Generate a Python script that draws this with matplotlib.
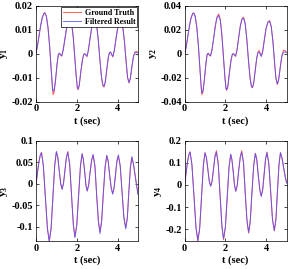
import numpy as np
import matplotlib
matplotlib.use('Agg')
import matplotlib.pyplot as plt
from matplotlib.ticker import FormatStrFormatter

plt.rcParams['font.family'] = 'Liberation Serif'
plt.rcParams['font.weight'] = 'bold'
plt.rcParams['mathtext.fontset'] = 'custom'
plt.rcParams['mathtext.rm'] = 'Liberation Serif'
plt.rcParams['mathtext.bf'] = 'Liberation Serif:bold'
plt.rcParams['axes.unicode_minus'] = False

# time grids (sec)
t_a = [0.00, 0.08, 0.16, 0.24, 0.32, 0.40, 0.45, 0.52, 0.60, 0.68,
       0.76, 0.82, 0.85, 0.90, 0.97, 1.04, 1.10, 1.15, 1.21, 1.27,
       1.34, 1.42, 1.50, 1.58, 1.67, 1.75, 1.83, 1.91, 1.98, 2.03,
       2.06, 2.12, 2.20, 2.28, 2.34, 2.39, 2.45, 2.50, 2.57, 2.65,
       2.73, 2.81, 2.89, 2.97, 3.05, 3.13, 3.21, 3.28, 3.33, 3.39,
       3.46, 3.54, 3.60, 3.65, 3.70, 3.76, 3.83, 3.91, 3.99, 4.08,
       4.17, 4.25, 4.33, 4.41, 4.48, 4.55, 4.61, 4.69, 4.77, 4.85,
       4.92, 5.00]

t_b = [0.00, 0.07, 0.14, 0.21, 0.27,
       0.36, 0.46, 0.56, 0.65,
       0.74, 0.83, 0.92, 1.00,
       1.07, 1.14, 1.21, 1.28,
       1.35, 1.42, 1.49, 1.56,
       1.65, 1.74, 1.83, 1.91,
       2.00, 2.09, 2.18, 2.26,
       2.32, 2.39, 2.45, 2.51,
       2.58, 2.65, 2.73, 2.80,
       2.89, 2.97, 3.06, 3.14,
       3.22, 3.30, 3.39, 3.47,
       3.54, 3.61, 3.69, 3.76,
       3.83, 3.90, 3.97, 4.04,
       4.13, 4.22, 4.31, 4.40,
       4.48, 4.55, 4.63, 4.70,
       4.78, 4.86, 4.93, 5.00]

y1_true = [0.0000, 0.0030, 0.0075, 0.0118, 0.0152, 0.0170, 0.0172, 0.0158, 0.0110, 0.0030,
           -0.0075, -0.0150, -0.0171, -0.0160, -0.0110, -0.0045, -0.0005, 0.0002, -0.0005, -0.0010,
           0.0015, 0.0060, 0.0105, 0.0138, 0.0150, 0.0130, 0.0070, -0.0020, -0.0100, -0.0143,
           -0.0150, -0.0135, -0.0075, -0.0025, -0.0003, 0.0000, -0.0006, -0.0012, 0.0015, 0.0065,
           0.0110, 0.0138, 0.0145, 0.0120, 0.0060, -0.0025, -0.0100, -0.0134, -0.0139, -0.0120,
           -0.0070, -0.0015, 0.0004, 0.0007, -0.0003, -0.0013, 0.0012, 0.0060, 0.0105, 0.0130,
           0.0135, 0.0110, 0.0050, -0.0035, -0.0100, -0.0122, -0.0105, -0.0055, -0.0010, 0.0008,
           0.0010, 0.0005]
y1_filt = [0.0000, 0.0030, 0.0074, 0.0117, 0.0150, 0.0168, 0.0170, 0.0156, 0.0108, 0.0030,
           -0.0070, -0.0140, -0.0157, -0.0150, -0.0105, -0.0043, -0.0004, 0.0003, -0.0003, -0.0008,
           0.0016, 0.0060, 0.0104, 0.0136, 0.0148, 0.0128, 0.0069, -0.0019, -0.0097, -0.0140,
           -0.0147, -0.0133, -0.0074, -0.0024, -0.0002, 0.0001, -0.0004, -0.0010, 0.0016, 0.0064,
           0.0108, 0.0136, 0.0143, 0.0119, 0.0059, -0.0024, -0.0098, -0.0131, -0.0136, -0.0118,
           -0.0069, -0.0014, 0.0005, 0.0008, -0.0002, -0.0011, 0.0013, 0.0060, 0.0104, 0.0129,
           0.0134, 0.0109, 0.0050, -0.0034, -0.0098, -0.0120, -0.0104, -0.0054, -0.0009, 0.0006,
           0.0006, 0.0002]

y2_true = [0.0000, 0.0060, 0.0150, 0.0236, 0.0304, 0.0338, 0.0342, 0.0315, 0.0220, 0.0060,
           -0.0150, -0.0300, -0.0342, -0.0320, -0.0220, -0.0090, -0.0010, 0.0004, -0.0010, -0.0020,
           0.0030, 0.0125, 0.0230, 0.0305, 0.0333, 0.0290, 0.0155, -0.0040, -0.0205, -0.0292,
           -0.0306, -0.0275, -0.0155, -0.0050, -0.0006, 0.0000, -0.0012, -0.0022, 0.0030, 0.0135,
           0.0232, 0.0292, 0.0306, 0.0255, 0.0125, -0.0050, -0.0205, -0.0276, -0.0284, -0.0245,
           -0.0145, -0.0030, 0.0015, 0.0028, 0.0008, -0.0020, 0.0022, 0.0118, 0.0210, 0.0265,
           0.0278, 0.0228, 0.0105, -0.0070, -0.0208, -0.0256, -0.0220, -0.0115, -0.0015, 0.0030,
           0.0028, 0.0012]
y2_filt = [0.0000, 0.0060, 0.0149, 0.0235, 0.0302, 0.0336, 0.0340, 0.0312, 0.0217, 0.0058,
           -0.0145, -0.0288, -0.0328, -0.0308, -0.0212, -0.0086, -0.0008, 0.0004, -0.0008, -0.0016,
           0.0032, 0.0122, 0.0222, 0.0294, 0.0320, 0.0280, 0.0150, -0.0038, -0.0200, -0.0288,
           -0.0302, -0.0272, -0.0153, -0.0048, -0.0004, 0.0002, -0.0010, -0.0018, 0.0032, 0.0133,
           0.0228, 0.0286, 0.0300, 0.0250, 0.0122, -0.0050, -0.0202, -0.0272, -0.0280, -0.0242,
           -0.0143, -0.0032, 0.0008, 0.0014, 0.0002, -0.0022, 0.0020, 0.0115, 0.0206, 0.0260,
           0.0272, 0.0224, 0.0104, -0.0068, -0.0205, -0.0252, -0.0218, -0.0114, -0.0018, 0.0012,
           0.0016, 0.0010]

y3_true = [0.000, 0.025, 0.050, 0.067, 0.073,
           0.043, -0.031, -0.104, -0.134,
           -0.104, -0.030, 0.044, 0.074,
           0.061, 0.031, 0.001, -0.012,
           0.001, 0.032, 0.062, 0.075,
           0.046, -0.024, -0.094, -0.123,
           -0.095, -0.027, 0.041, 0.069,
           0.057, 0.027, -0.004, -0.016,
           -0.004, 0.026, 0.055, 0.067,
           0.041, -0.022, -0.085, -0.111,
           -0.085, -0.023, 0.039, 0.065,
           0.052, 0.021, -0.010, -0.023,
           -0.010, 0.021, 0.052, 0.065,
           0.041, -0.018, -0.077, -0.1015,
           -0.078, -0.020, 0.037, 0.061,
           0.045, 0.020, -0.002, -0.023]
y3_filt = [0.000, 0.025, 0.050, 0.066, 0.072,
           0.042, -0.031, -0.103, -0.133,
           -0.104, -0.030, 0.044, 0.075,
           0.061, 0.030, 0.000, -0.013,
           0.001, 0.031, 0.060, 0.073,
           0.045, -0.024, -0.095, -0.125,
           -0.096, -0.027, 0.041, 0.070,
           0.057, 0.027, -0.004, -0.017,
           -0.004, 0.026, 0.055, 0.068,
           0.041, -0.023, -0.089, -0.116,
           -0.088, -0.024, 0.039, 0.066,
           0.053, 0.021, -0.010, -0.024,
           -0.009, 0.022, 0.054, 0.067,
           0.042, -0.019, -0.080, -0.105,
           -0.080, -0.020, 0.038, 0.063,
           0.046, 0.020, -0.003, -0.025]

y4_true = [0.000, 0.052, 0.103, 0.138, 0.150,
           0.091, -0.052, -0.195, -0.254,
           -0.196, -0.054, 0.088, 0.146,
           0.124, 0.071, 0.017, -0.005,
           0.018, 0.075, 0.132, 0.155,
           0.096, -0.047, -0.189, -0.248,
           -0.192, -0.055, 0.082, 0.138,
           0.114, 0.055, -0.004, -0.028,
           -0.001, 0.064, 0.128, 0.155,
           0.101, -0.032, -0.164, -0.218,
           -0.165, -0.038, 0.090, 0.143,
           0.115, 0.047, -0.022, -0.050,
           -0.021, 0.049, 0.119, 0.148,
           0.096, -0.030, -0.156, -0.208,
           -0.156, -0.032, 0.093, 0.145,
           0.120, 0.075, 0.040, 0.010]
y4_filt = [0.000, 0.052, 0.102, 0.137, 0.148,
           0.090, -0.052, -0.194, -0.252,
           -0.195, -0.054, 0.088, 0.145,
           0.123, 0.070, 0.016, -0.006,
           0.017, 0.073, 0.128, 0.148,
           0.093, -0.046, -0.186, -0.243,
           -0.189, -0.054, 0.082, 0.139,
           0.114, 0.054, -0.005, -0.029,
           -0.002, 0.062, 0.124, 0.147,
           0.097, -0.032, -0.162, -0.215,
           -0.163, -0.038, 0.089, 0.142,
           0.114, 0.046, -0.023, -0.052,
           -0.022, 0.048, 0.118, 0.146,
           0.095, -0.030, -0.155, -0.206,
           -0.155, -0.032, 0.093, 0.146,
           0.121, 0.076, 0.040, 0.008]

ylims = [(-0.02, 0.02), (-0.04, 0.04), (-0.1335, 0.1), (-0.255, 0.2)]
yticks = [[-0.02, -0.01, 0, 0.01, 0.02],
          [-0.04, -0.02, 0, 0.02, 0.04],
          [-0.1, -0.05, 0, 0.05, 0.1],
          [-0.2, -0.1, 0, 0.1, 0.2]]
ylabels = [r'$\mathbf{y_1}$', r'$\mathbf{y_2}$', r'$\mathbf{y_3}$', r'$\mathbf{y_4}$']

panels = [(t_a, y1_true, y1_filt), (t_a, y2_true, y2_filt),
          (t_b, y3_true, y3_filt), (t_b, y4_true, y4_filt)]
rects = [[0.124, 0.622, 0.356, 0.356],
         [0.641, 0.622, 0.354, 0.356],
         [0.125, 0.103, 0.354, 0.374],
         [0.641, 0.103, 0.354, 0.374]]

fig = plt.figure(figsize=(2.88, 2.69), dpi=100)
for i in range(4):
    t, yt, yf = panels[i]
    ax = fig.add_axes(rects[i])
    ax.plot(t, yt, color=(1, 0.35, 0.35), lw=0.7, label='Ground Truth')
    ax.plot(t, yf, color=(0.3, 0.3, 1), lw=0.7, alpha=0.8, label='Filtered Result')
    ax.set_xlim(0, 5)
    ax.set_ylim(*ylims[i])
    ax.set_xticks([0, 2, 4])
    ax.set_yticks(yticks[i])
    ax.yaxis.set_major_formatter(FormatStrFormatter('%g'))
    ax.tick_params(direction='in', top=True, right=True, length=2.5, width=0.5,
                   labelsize=7.5, pad=2)
    for s in ax.spines.values():
        s.set_linewidth(0.5)
    ax.set_xlabel('t (sec)', fontsize=7.5, fontweight='bold', labelpad=2)
    ax.set_ylabel(ylabels[i], fontsize=8, labelpad=1)
    if i == 0:
        leg = ax.legend(loc='upper right', fontsize=5.8, fancybox=False,
                        edgecolor='black', framealpha=1, borderpad=0.2,
                        labelspacing=0.1, handlelength=2.2, handletextpad=0.5,
                        borderaxespad=0.15)
        leg.get_frame().set_linewidth(0.5)

fig.savefig('out.png', dpi=100)
